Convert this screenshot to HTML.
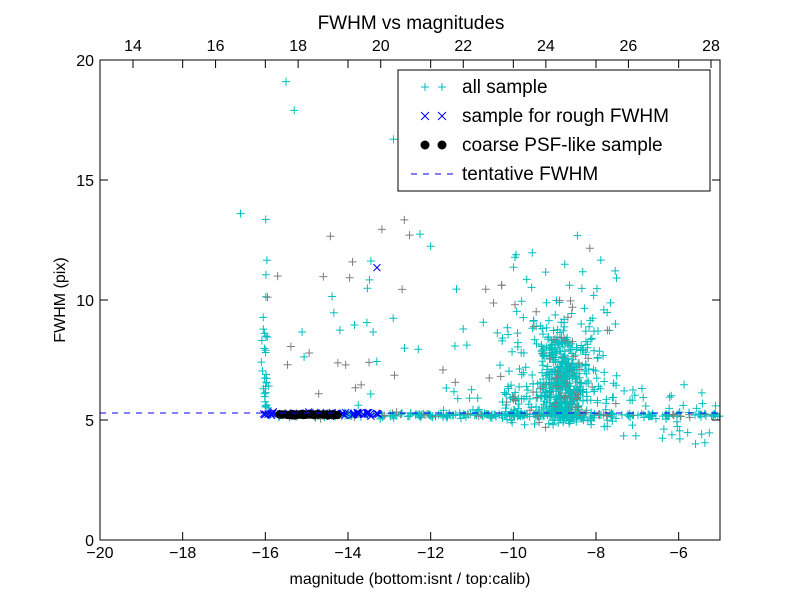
<!DOCTYPE html>
<html><head><meta charset="utf-8"><style>
body{margin:0;background:#fff;}
svg text{font-family:"Liberation Sans","DejaVu Sans",sans-serif;}
</style></head><body>
<svg id="s" width="800" height="600" xmlns="http://www.w3.org/2000/svg">
<rect width="800" height="600" fill="#fff"/>
<g id="pts"></g>
<line x1="100" y1="413" x2="720" y2="413" stroke="#0000ff" stroke-width="1" stroke-dasharray="6,6"/>
<rect x="100" y="60" width="620" height="480" fill="none" stroke="#000" stroke-width="1"/>
<g id="ticks" stroke="#000"></g>
<g font-size="16" fill="#000" id="lbl"></g>
<text x="411" y="29" font-size="19" text-anchor="middle">FWHM vs magnitudes</text>
<text x="410" y="584" font-size="16" text-anchor="middle">magnitude (bottom:isnt / top:calib)</text>
<text transform="translate(65,300) rotate(-90)" font-size="16" text-anchor="middle">FWHM (pix)</text>
<rect x="398" y="70" width="312" height="121" fill="#fff" stroke="#000"/>
<g font-size="19">
<text x="462" y="93">all sample</text>
<text x="462" y="122">sample for rough FWHM</text>
<text x="462" y="151">coarse PSF-like sample</text>
<text x="462" y="180">tentative FWHM</text>
</g>
<g stroke="#00bfbf"><path d="M421 87h8M425 83v8M438 87h8M442 83v8"/></g>
<g stroke="#0000ff"><path d="M421 112l8 8M429 112l-8 8M438 112l8 8M446 112l-8 8"/></g>
<circle cx="425" cy="145" r="4.5"/><circle cx="442" cy="145" r="4.5"/>
<line x1="411" y1="174" x2="455" y2="174" stroke="#0000ff" stroke-dasharray="6,6"/>
</svg>
<script>
var X=function(v){return 100+(v+20)*620/15},Y=function(v){return 540-v*24};
var seed=11;function r(){seed=(seed*16807)%2147483647;return seed/2147483647;}
function n(){return (r()+r()+r()+r()-2)*0.87;}
var P=[];
function plus(x,y,c){P.push('<path d="M'+(X(x)-4)+' '+Y(y)+'h8M'+X(x)+' '+(Y(y)-4)+'v8" stroke="'+c+'"/>');}
function cross(x,y){var a=X(x),b=Y(y);P.push('<path d="M'+(a-3.5)+' '+(b-3.5)+'l7 7M'+(a+3.5)+' '+(b-3.5)+'l-7 7" stroke="#0000ff"/>');}
function col(p){return r()<p?'#7f7f7f':'#00bfbf';}
var i,x,y;
for(i=0;i<30;i++){plus(-16+n()*0.08,5.5+r()*r()*8,'#00bfbf');}
for(i=0;i<300;i++){x=-16+r()*11;plus(x,5.2+n()*0.1,col(0.15));}
for(i=0;i<450;i++){x=-8.8+n()*0.6;y=4.7+Math.abs(n())*1.8+r()*r()*4.5;plus(x,y,col(0.15));}
for(i=0;i<200;i++){x=-10.3+r()*2.8;y=4.6+Math.abs(n())*1.2+r()*r()*8;plus(x,y,col(0.15));}
for(i=0;i<40;i++){x=-11.8+r()*2;y=5+r()*r()*8;plus(x,y,col(0.3));}
for(i=0;i<40;i++){x=-16+r()*4;y=5.5+r()*8;plus(x,y,col(0.5));}
for(i=0;i<40;i++){x=-8+r()*3;y=4+r()*2.5;plus(x,y,'#00bfbf');}
plus(-15.5,19.1,'#00bfbf');plus(-15.3,17.9,'#00bfbf');plus(-16.6,13.6,'#00bfbf');plus(-12.9,16.7,'#00bfbf');
for(i=0;i<60;i++){x=-16.1+r()*2.9;cross(x,5.25+n()*0.08);}
cross(-13.3,11.35);
for(i=0;i<70;i++){x=-15.7+r()*1.5;P.push('<circle cx="'+X(x)+'" cy="'+Y(5.22+n()*0.04)+'" r="4"/>');}
document.getElementById('pts').innerHTML=P.join('');
var T=[],L=[];
for(var v=-20;v<=-6;v+=2){var px=X(v);T.push('<path d="M'+px+' 540v-8M'+px+' 60v8"/>');L.push('<text x="'+px+'" y="558" text-anchor="middle">'+'\u2212'+(-v)+'</text>');}
for(v=0;v<=20;v+=5){var py=Y(v);T.push('<path d="M100 '+py+'h8M720 '+py+'h-8"/>');L.push('<text x="94" y="'+(py+6)+'" text-anchor="end">'+v+'</text>');}
for(v=14;v<=28;v+=2){var tx=133+(v-14)*578/14;T.push('<path d="M'+tx+' 60v8"/>');L.push('<text x="'+tx+'" y="51" text-anchor="middle">'+v+'</text>');}
document.getElementById('ticks').innerHTML=T.join('');
document.getElementById('lbl').innerHTML=L.join('');
</script>
</body></html>
